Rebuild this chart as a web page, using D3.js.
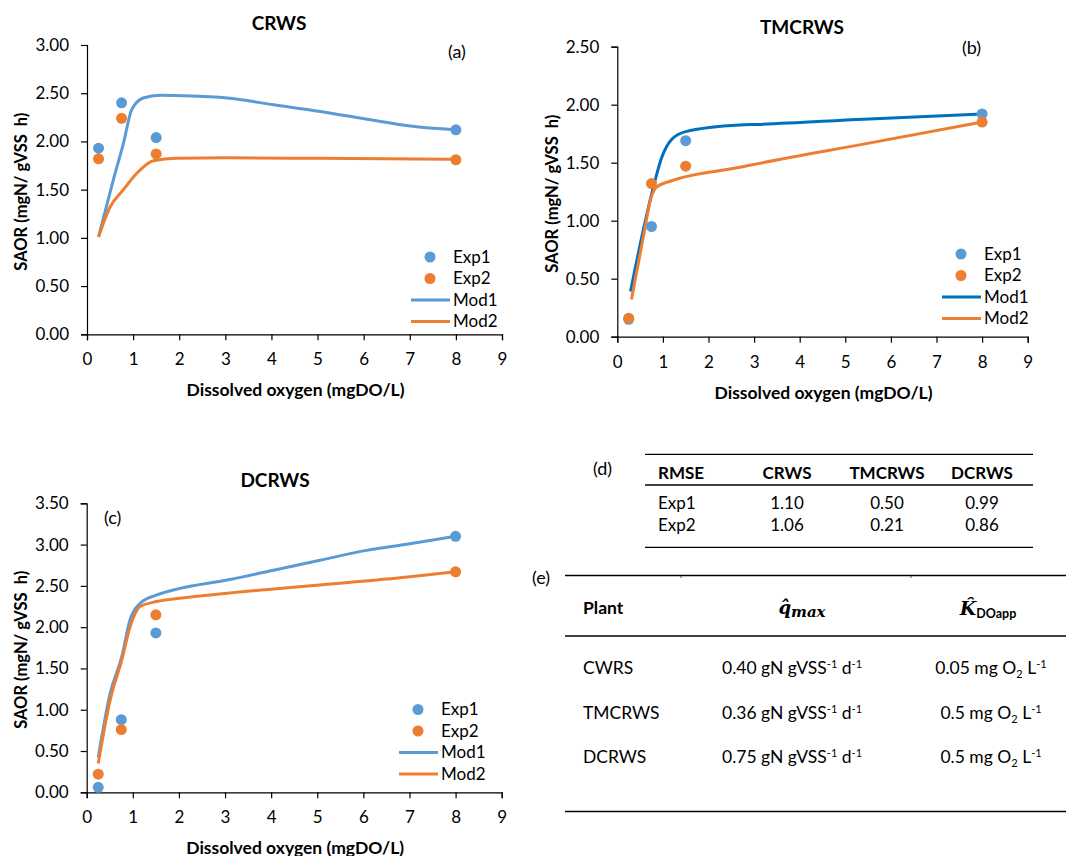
<!DOCTYPE html>
<html>
<head>
<meta charset="utf-8">
<script src="https://cdn.jsdelivr.net/npm/d3@7"></script>
<style>
  body { margin: 0; background: #fff; }
  svg { display: block; font-family: Lato, "Open Sans", sans-serif; }
</style>
</head>
<body>
<svg id="fig" width="1066" height="856"></svg>
<script>
// measured dissolved oxygen levels
var doExp = [0.25, 0.75, 1.5, 8]

// CRWS (a)
var crwsExp1 = [1.93, 2.40, 2.04, 2.12]
var crwsExp2 = [1.82, 2.24, 1.87, 1.81]
var crwsMod1X = [0.25, 0.57, 0.79, 0.97, 1.22, 1.58, 2.02, 3.04, 4.05, 5.06, 6.07, 7.01, 8]
var crwsMod1 = [1.01, 1.60, 1.98, 2.33, 2.45, 2.48, 2.475, 2.45, 2.38, 2.31, 2.23, 2.16, 2.12]
var crwsMod2X = [0.25, 0.5, 0.79, 1.08, 1.44, 1.94, 3.04, 5.0, 8]
var crwsMod2 = [1.01, 1.32, 1.50, 1.67, 1.80, 1.825, 1.83, 1.825, 1.815]

// TMCRWS (b)
var tmExp1 = [0.15, 0.95, 1.69, 1.92]
var tmExp2 = [0.16, 1.32, 1.47, 1.85]
var tmMod1X = [0.29, 0.57, 0.83, 0.97, 1.19, 1.52, 2.69, 3.06, 5.4, 8]
var tmMod1 = [0.39, 0.92, 1.35, 1.54, 1.70, 1.77, 1.825, 1.83, 1.875, 1.92]
var tmMod2X = [0.31, 0.57, 0.75, 0.86, 1.16, 2.69, 3.06, 5.4, 8]
var tmMod2 = [0.32, 0.86, 1.21, 1.29, 1.34, 1.46, 1.49, 1.66, 1.85]

// DCRWS (c)
var dcExp1 = [0.06, 0.88, 1.93, 3.10]
var dcExp2 = [0.22, 0.76, 2.15, 2.67]
var dcMod1X = [0.25, 0.51, 0.76, 0.94, 1.16, 1.52, 2.02, 3.04, 4.05, 5.06, 6.07, 7.01, 8]
var dcMod1 = [0.42, 1.20, 1.64, 2.09, 2.29, 2.39, 2.47, 2.57, 2.69, 2.81, 2.93, 3.01, 3.10]
var dcMod2X = [0.25, 0.51, 0.76, 0.94, 1.16, 1.52, 2.02, 3.04, 5.06, 7.01, 8]
var dcMod2 = [0.35, 1.12, 1.60, 2.00, 2.25, 2.31, 2.35, 2.41, 2.51, 2.61, 2.67]

// table (d)
var rmseHeader = ["RMSE", "CRWS", "TMCRWS", "DCRWS"]
var rmseRows = ["Exp1", "Exp2"]
var rmseValues = [["1.10", "0.50", "0.99"], ["1.06", "0.21", "0.86"]]

// table (e)
var plants = ["CWRS", "TMCRWS", "DCRWS"]
var qmax = ["0.40", "0.36", "0.75"]
var kdo = ["0.05", "0.5", "0.5"]

var legendNames = ["Exp1", "Exp2", "Mod1", "Mod2"]
var xTicks = d3.range(0, 10)

var BLUE = "#5b9bd5", DARKBLUE = "#0070c0", ORANGE = "#ed7d31"

var svg = d3.select("#fig")

function drawPanel(p){
  var g = svg.append("g")
  var x = d3.scaleLinear().domain([0, 9]).range([p.x0, p.x1])
  var y = d3.scaleLinear().domain([0, p.yMax]).range([p.y0, p.y1])

  var xAxis = g.append("g")
    .attr("transform", "translate(0," + p.y0 + ")")
    .call(d3.axisBottom(x).tickValues(xTicks).tickSize(6).tickPadding(13).tickFormat(d3.format("d")))
  var yAxis = g.append("g")
    .attr("transform", "translate(" + p.x0 + ",0)")
    .call(d3.axisLeft(y).tickValues(d3.range(0, p.yMax + 0.01, 0.5)).tickSize(6).tickPadding(12).tickFormat(d3.format(".2f")))

  ;[xAxis, yAxis].forEach(function(a){
    a.select(".domain").attr("stroke", "#000").attr("stroke-width", 1.2)
    a.selectAll(".tick line").attr("stroke", "#000").attr("stroke-width", 1.2)
    a.selectAll(".tick text").attr("font-size", 17).attr("fill", "#000").attr("font-family", "Lato")
  })

  var line = d3.line()
    .x(function(d){ return x(d[0]) })
    .y(function(d){ return y(d[1]) })
    .curve(d3.curveMonotoneX)

  g.append("path").datum(d3.zip(p.m1x, p.m1))
    .attr("d", line).attr("fill", "none").attr("stroke", p.c1).attr("stroke-width", 3)
  g.append("path").datum(d3.zip(p.m2x, p.m2))
    .attr("d", line).attr("fill", "none").attr("stroke", ORANGE).attr("stroke-width", 3)

  g.selectAll(".e1").data(d3.zip(doExp, p.e1)).enter().append("circle")
    .attr("cx", function(d){ return x(d[0]) }).attr("cy", function(d){ return y(d[1]) })
    .attr("r", 5.5).attr("fill", BLUE)
  g.selectAll(".e2").data(d3.zip(doExp, p.e2)).enter().append("circle")
    .attr("cx", function(d){ return x(d[0]) }).attr("cy", function(d){ return y(d[1]) })
    .attr("r", 5.5).attr("fill", ORANGE)

  // titles and labels
  g.append("text").attr("x", p.tx).attr("y", p.ty).attr("text-anchor", "middle").attr("dy", "0.35em")
    .attr("font-weight", "bold").attr("font-size", 19).text(p.title)
  g.append("text").attr("x", p.lx).attr("y", p.ly).attr("dy", "0.35em")
    .attr("font-size", 18).text(p.letter)
  g.append("text").attr("transform", "translate(" + p.yLabelX + "," + ((p.y0 + p.y1) / 2 + 2) + ") rotate(-90)")
    .attr("text-anchor", "middle").attr("dy", "0.35em").attr("font-weight", "bold").attr("font-size", 16.5)
    .attr("xml:space", "preserve").text("SAOR (mgN/ gVSS  h)")
  g.append("text").attr("x", (p.x0 + p.x1) / 2 + 1).attr("y", p.y0 + 56).attr("dy", "0.35em")
    .attr("text-anchor", "middle").attr("font-weight", "bold").attr("font-size", 17.5)
    .text("Dissolved oxygen (mgDO/L)")

  // legend
  var lg = g.append("g").attr("transform", "translate(" + p.legX + "," + p.legY + ")")
  var legColors = [BLUE, ORANGE, p.c1, ORANGE]
  legendNames.forEach(function(name, i){
    var yy = i * 21.5
    if(i < 2){
      lg.append("circle").attr("cx", -23).attr("cy", yy).attr("r", 5.5).attr("fill", legColors[i])
    }else{
      lg.append("line").attr("x1", -42).attr("x2", -3).attr("y1", yy).attr("y2", yy)
        .attr("stroke", legColors[i]).attr("stroke-width", 3)
    }
    lg.append("text").attr("x", 0).attr("y", yy).attr("dy", "0.35em").attr("font-size", 17).text(name)
  })
}

drawPanel({x0: 87, x1: 502, y0: 334.3, y1: 45, yMax: 3, e1: crwsExp1, e2: crwsExp2,
  m1x: crwsMod1X, m1: crwsMod1, m2x: crwsMod2X, m2: crwsMod2, c1: BLUE,
  title: "CRWS", tx: 279, ty: 23, letter: "(a)", lx: 448, ly: 52, yLabelX: 21,
  legX: 453, legY: 257})

drawPanel({x0: 617.3, x1: 1027.7, y0: 336.7, y1: 46.7, yMax: 2.5, e1: tmExp1, e2: tmExp2,
  m1x: tmMod1X, m1: tmMod1, m2x: tmMod2X, m2: tmMod2, c1: DARKBLUE,
  title: "TMCRWS", tx: 802, ty: 27, letter: "(b)", lx: 962, ly: 48, yLabelX: 552,
  legX: 984, legY: 254})

drawPanel({x0: 86.7, x1: 501.7, y0: 792.3, y1: 503.3, yMax: 3.5, e1: dcExp1, e2: dcExp2,
  m1x: dcMod1X, m1: dcMod1, m2x: dcMod2X, m2: dcMod2, c1: BLUE,
  title: "DCRWS", tx: 275, ty: 480, letter: "(c)", lx: 104, ly: 518, yLabelX: 21,
  legX: 441, legY: 709.5})

// ---- table (d)
var td = svg.append("g").attr("font-size", 17)
td.append("text").attr("x", 593).attr("y", 469).attr("dy", "0.35em").attr("font-size", 18).text("(d)")
;[454.3, 485, 547.3].forEach(function(yy){
  td.append("line").attr("x1", 645).attr("x2", 1033).attr("y1", yy).attr("y2", yy)
    .attr("stroke", "#000").attr("stroke-width", 1.3)
})
var dCols = [658, 787, 887, 982]
rmseHeader.forEach(function(h, i){
  td.append("text").attr("x", dCols[i]).attr("y", 473).attr("dy", "0.35em")
    .attr("text-anchor", i == 0 ? "start" : "middle").attr("font-weight", "bold").text(h)
})
rmseRows.forEach(function(r, j){
  var yy = 503.5 + j * 21.5
  td.append("text").attr("x", dCols[0]).attr("y", yy).attr("dy", "0.35em").text(r)
  rmseValues[j].forEach(function(v, i){
    td.append("text").attr("x", dCols[i + 1]).attr("y", yy).attr("dy", "0.35em")
      .attr("text-anchor", "middle").text(v)
  })
})

// ---- table (e)
var te = svg.append("g").attr("font-size", 17.5)
te.append("text").attr("x", 532).attr("y", 578).attr("dy", "0.35em").attr("font-size", 18).text("(e)")
;[[565, 575.5], [565, 636], [565, 811.5]].forEach(function(l){
  te.append("line").attr("x1", l[0]).attr("x2", 1066).attr("y1", l[1]).attr("y2", l[1])
    .attr("stroke", "#000").attr("stroke-width", 1.3)
})
;[681, 911].forEach(function(xx){
  te.append("rect").attr("x", xx - 0.5).attr("y", 576).attr("width", 1).attr("height", 2).attr("fill", "#555")
})
te.append("text").attr("x", 583).attr("y", 608).attr("dy", "0.35em").attr("font-weight", "bold").text("Plant")

var qh = te.append("text").attr("x", 802).attr("y", 608).attr("dy", "0.35em").attr("text-anchor", "middle")
  .attr("font-family", "DejaVu Serif").attr("font-weight", "bold").attr("font-style", "italic").attr("font-size", 18)
qh.append("tspan").text("q\u0302")
qh.append("tspan").attr("font-size", 15).attr("dy", 3).text("max")

var kh = te.append("text").attr("x", 988).attr("y", 608).attr("dy", "0.35em").attr("text-anchor", "middle")
  .attr("font-family", "DejaVu Serif").attr("font-weight", "bold").attr("font-style", "italic").attr("font-size", 19)
kh.append("tspan").text("K\u0302")
kh.append("tspan").attr("font-family", "Lato").attr("font-style", "normal").attr("font-size", 12.5).attr("dy", 3).text("DOapp")

var rowY = [668, 712.5, 757]
plants.forEach(function(pl, i){
  te.append("text").attr("x", 583).attr("y", rowY[i]).attr("dy", "0.35em").text(pl)

  var t2 = te.append("text").attr("x", 792).attr("y", rowY[i]).attr("dy", "0.35em").attr("text-anchor", "middle")
  t2.append("tspan").text(qmax[i] + " gN gVSS")
  t2.append("tspan").attr("font-size", 11).attr("dy", -6).text("-1")
  t2.append("tspan").attr("dy", 6).text(" d")
  t2.append("tspan").attr("font-size", 11).attr("dy", -6).text("-1")

  var t3 = te.append("text").attr("x", 991).attr("y", rowY[i]).attr("dy", "0.35em").attr("text-anchor", "middle")
  t3.append("tspan").text(kdo[i] + " mg O")
  t3.append("tspan").attr("font-size", 11).attr("dy", 4).text("2")
  t3.append("tspan").attr("dy", -4).text(" L")
  t3.append("tspan").attr("font-size", 11).attr("dy", -6).text("-1")
})
</script>
</body>
</html>
